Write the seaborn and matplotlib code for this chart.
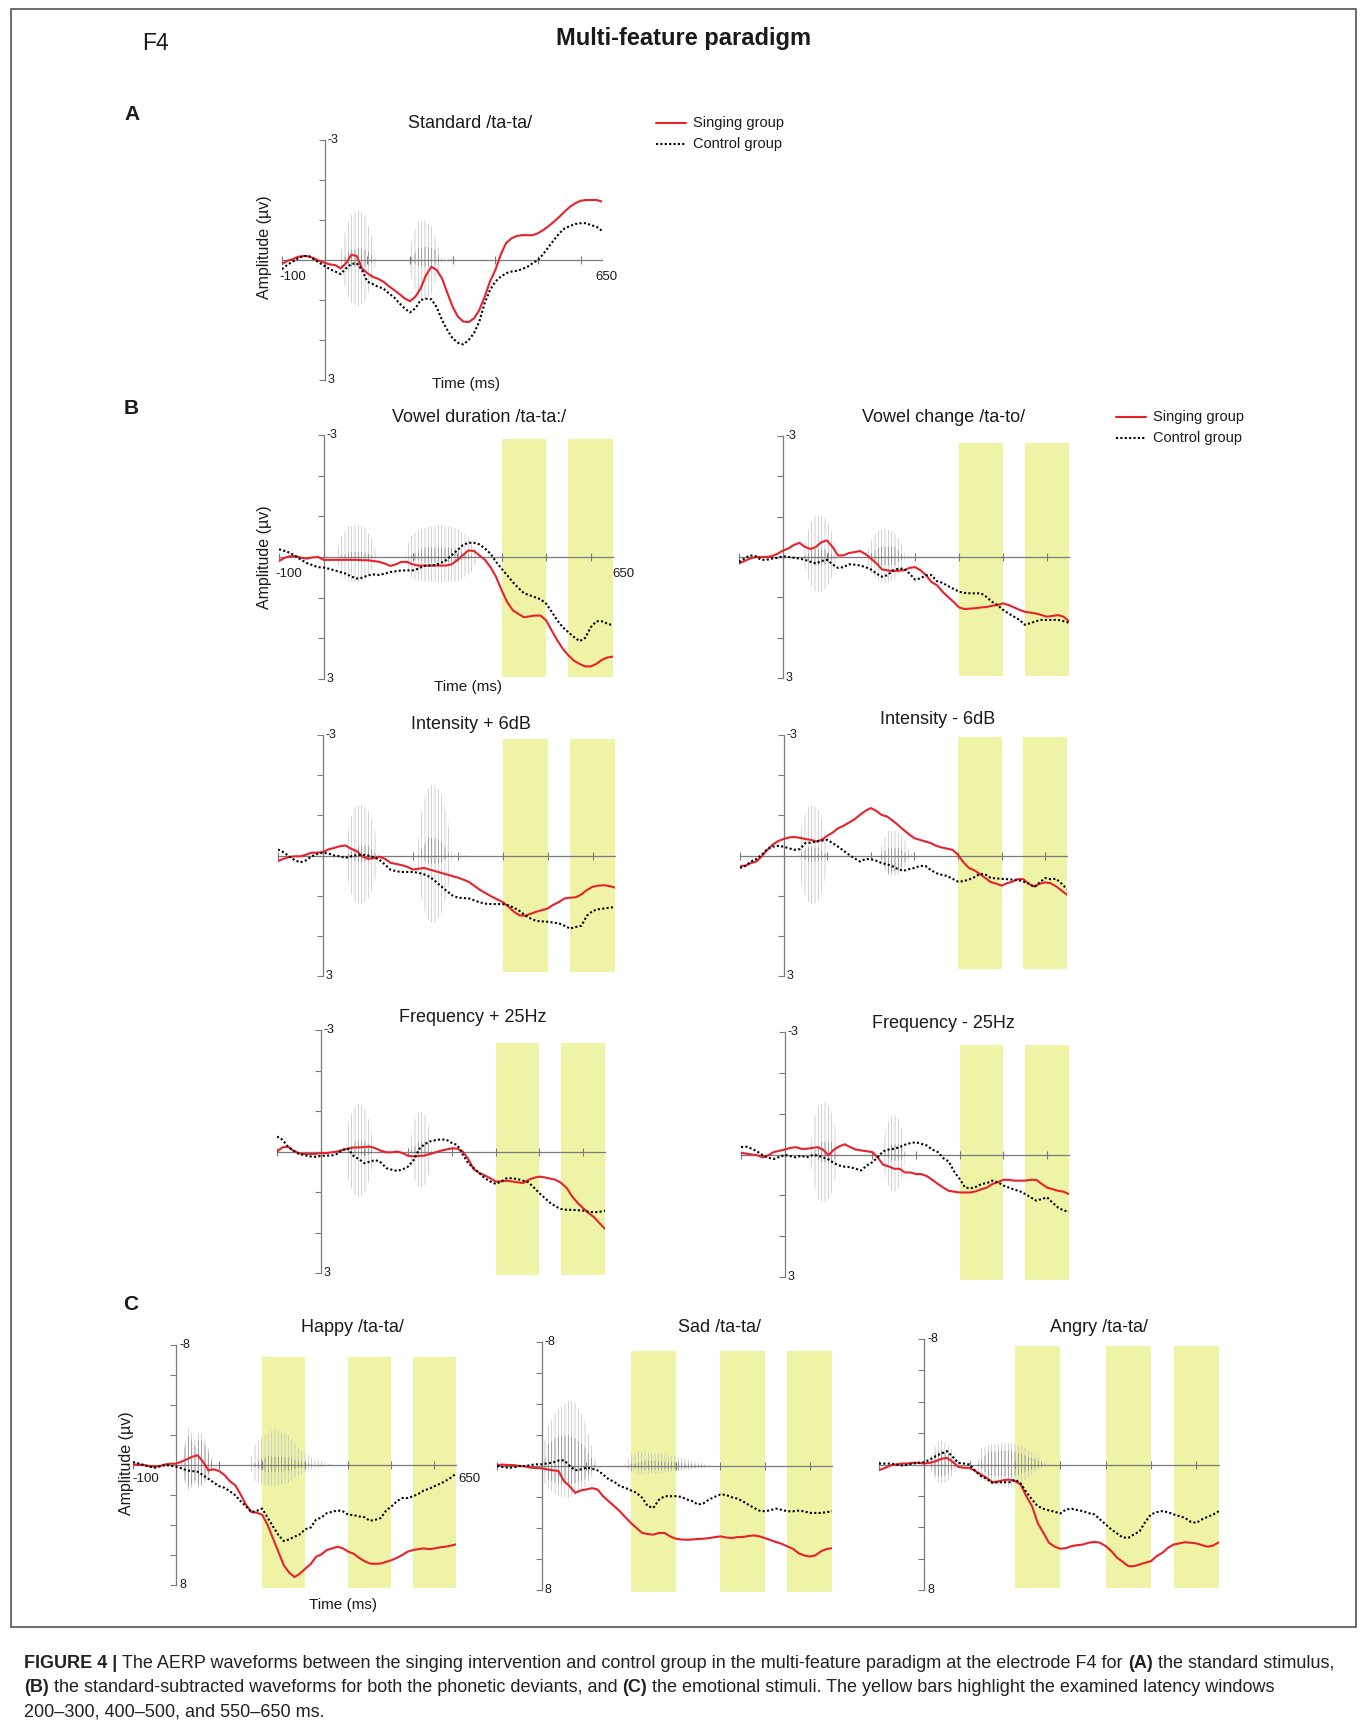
import matplotlib
matplotlib.use("Agg")
import numpy as np
import pandas as pd
import matplotlib.pyplot as plt
import seaborn as sns
from matplotlib.lines import Line2D
from matplotlib.patches import Rectangle
from matplotlib import font_manager

# ---------------------------------------------------------------- data
TIME_MS = np.arange(-100, 650.1, 12.5).tolist()

# grand-average ERPs (µV), electrode F4, one value every 12.5 ms from -100 to 650 ms
A_SING = [0.1, 0.02, -0.02, -0.08, -0.1, -0.09, -0.04, 0.02, 0.07, 0.11,
          0.13, 0.21, 0.08, -0.13, -0.1, 0.21, 0.33, 0.42, 0.47, 0.54,
          0.65, 0.75, 0.85, 0.96, 1.03, 0.92, 0.71, 0.38, 0.17, 0.25,
          0.46, 0.82, 1.17, 1.42, 1.54, 1.55, 1.46, 1.25, 0.92, 0.54,
          0.25, -0.13, -0.42, -0.54, -0.6, -0.62, -0.62, -0.62, -0.67, -0.75,
          -0.85, -0.96, -1.08, -1.21, -1.33, -1.42, -1.48, -1.5, -1.5, -1.5,
          -1.46]
A_CTRL = [0.23, 0.12, 0.04, -0.04, -0.1, -0.1, -0.02, 0.07, 0.15, 0.23,
          0.29, 0.35, 0.21, 0.1, 0.08, 0.25, 0.54, 0.6, 0.67, 0.71,
          0.83, 0.93, 1.08, 1.21, 1.31, 1.21, 1.0, 0.97, 0.98, 1.18,
          1.5, 1.75, 1.96, 2.07, 2.11, 2.0, 1.83, 1.54, 1.08, 0.75,
          0.54, 0.42, 0.33, 0.29, 0.27, 0.23, 0.17, 0.08, 0.0, -0.15,
          -0.33, -0.5, -0.67, -0.79, -0.85, -0.9, -0.92, -0.92, -0.87, -0.83,
          -0.73]

DUR_SING = [0.1, 0.02, -0.02, -0.02, 0.02, 0.04, 0.01, 0.0, 0.07, 0.07,
            0.07, 0.07, 0.07, 0.07, 0.07, 0.08, 0.08, 0.1, 0.12, 0.16,
            0.22, 0.18, 0.12, 0.12, 0.18, 0.21, 0.21, 0.21, 0.21, 0.21,
            0.21, 0.18, 0.08, -0.04, -0.16, -0.15, -0.04, 0.07, 0.25, 0.49,
            0.82, 1.11, 1.31, 1.4, 1.48, 1.46, 1.44, 1.44, 1.56, 1.81,
            2.05, 2.26, 2.42, 2.55, 2.63, 2.69, 2.69, 2.63, 2.53, 2.47,
            2.45]
DUR_CTRL = [-0.19, -0.15, -0.1, -0.02, 0.07, 0.15, 0.2, 0.25, 0.26, 0.29,
            0.33, 0.37, 0.41, 0.48, 0.53, 0.51, 0.45, 0.43, 0.44, 0.41,
            0.37, 0.35, 0.33, 0.33, 0.33, 0.29, 0.22, 0.21, 0.2, 0.15,
            0.08, -0.04, -0.16, -0.29, -0.35, -0.35, -0.31, -0.21, -0.08, 0.12,
            0.29, 0.45, 0.62, 0.76, 0.89, 0.94, 0.99, 1.04, 1.15, 1.35,
            1.56, 1.73, 1.85, 1.97, 2.07, 1.99, 1.73, 1.58, 1.58, 1.64,
            1.68]

VOW_SING = [0.16, 0.1, 0.04, 0.0, 0.0, 0.0, -0.02, -0.08, -0.16, -0.21,
            -0.3, -0.35, -0.25, -0.2, -0.25, -0.37, -0.41, -0.25, -0.04, -0.04,
            -0.1, -0.12, -0.15, -0.07, 0.04, 0.16, 0.31, 0.33, 0.35, 0.34,
            0.33, 0.27, 0.25, 0.33, 0.45, 0.62, 0.7, 0.86, 0.99, 1.11,
            1.25, 1.29, 1.28, 1.27, 1.25, 1.24, 1.21, 1.19, 1.15, 1.19,
            1.25, 1.31, 1.36, 1.38, 1.4, 1.44, 1.48, 1.46, 1.44, 1.48,
            1.59]
VOW_CTRL = [0.12, 0.04, -0.04, -0.02, 0.07, 0.07, 0.04, 0.02, -0.02, 0.0,
            0.02, 0.04, 0.07, 0.12, 0.16, 0.1, 0.07, 0.18, 0.27, 0.25,
            0.18, 0.19, 0.21, 0.25, 0.31, 0.41, 0.49, 0.45, 0.33, 0.29,
            0.29, 0.41, 0.56, 0.53, 0.45, 0.45, 0.6, 0.64, 0.72, 0.79,
            0.86, 0.89, 0.9, 0.9, 0.9, 0.99, 1.11, 1.19, 1.31, 1.4,
            1.48, 1.56, 1.68, 1.64, 1.59, 1.56, 1.56, 1.56, 1.56, 1.59,
            1.63]

INTP_SING = [0.14, 0.08, 0.04, 0.02, 0.02, -0.02, -0.07, -0.07, -0.09, -0.15,
             -0.19, -0.23, -0.25, -0.17, -0.11, 0.02, 0.08, 0.07, 0.03, 0.08,
             0.18, 0.21, 0.24, 0.28, 0.35, 0.33, 0.31, 0.35, 0.39, 0.43,
             0.47, 0.51, 0.55, 0.6, 0.66, 0.76, 0.86, 0.94, 1.02, 1.09,
             1.16, 1.27, 1.4, 1.49, 1.5, 1.45, 1.4, 1.36, 1.32, 1.23,
             1.16, 1.07, 1.05, 1.04, 0.97, 0.86, 0.78, 0.75, 0.74, 0.76,
             0.8]
INTP_CTRL = [-0.15, -0.08, 0.02, 0.12, 0.17, 0.12, 0.02, -0.04, -0.07, -0.05,
             0.0, 0.02, 0.06, 0.02, -0.01, -0.02, 0.0, 0.04, 0.1, 0.22,
             0.35, 0.39, 0.41, 0.41, 0.41, 0.43, 0.47, 0.53, 0.64, 0.76,
             0.88, 0.99, 1.05, 1.06, 1.07, 1.12, 1.17, 1.2, 1.21, 1.21,
             1.21, 1.24, 1.3, 1.38, 1.49, 1.57, 1.63, 1.64, 1.65, 1.67,
             1.69, 1.75, 1.82, 1.78, 1.75, 1.5, 1.38, 1.34, 1.32, 1.3,
             1.28]

INTM_SING = [0.27, 0.25, 0.19, 0.15, 0.02, -0.14, -0.27, -0.36, -0.41, -0.45,
             -0.46, -0.44, -0.41, -0.39, -0.35, -0.39, -0.49, -0.57, -0.68, -0.74,
             -0.82, -0.9, -1.01, -1.11, -1.18, -1.11, -1.01, -0.97, -0.87, -0.76,
             -0.64, -0.53, -0.43, -0.39, -0.35, -0.31, -0.24, -0.2, -0.17, -0.14,
             -0.02, 0.17, 0.31, 0.37, 0.46, 0.56, 0.66, 0.7, 0.75, 0.69,
             0.65, 0.59, 0.59, 0.71, 0.77, 0.7, 0.67, 0.69, 0.77, 0.87,
             0.98]
INTM_CTRL = [0.31, 0.26, 0.15, 0.09, -0.02, -0.16, -0.22, -0.24, -0.22, -0.18,
             -0.14, -0.16, -0.31, -0.32, -0.35, -0.37, -0.39, -0.31, -0.22, -0.12,
             -0.02, 0.07, 0.15, 0.09, 0.09, 0.13, 0.19, 0.22, 0.27, 0.34,
             0.38, 0.34, 0.31, 0.26, 0.26, 0.36, 0.44, 0.48, 0.51, 0.58,
             0.65, 0.64, 0.6, 0.54, 0.46, 0.47, 0.56, 0.57, 0.58, 0.59,
             0.6, 0.61, 0.65, 0.7, 0.79, 0.67, 0.56, 0.59, 0.58, 0.7,
             0.84]

FRQP_SING = [0.0, -0.1, -0.12, -0.02, 0.04, 0.06, 0.06, 0.06, 0.04, 0.04,
             0.02, 0.0, -0.04, -0.07, -0.1, -0.1, -0.11, -0.12, -0.08, -0.02,
             0.02, 0.02, 0.0, 0.04, 0.11, 0.12, 0.11, 0.1, 0.06, 0.02,
             -0.02, -0.05, -0.08, -0.07, 0.0, 0.19, 0.44, 0.53, 0.59, 0.66,
             0.74, 0.74, 0.72, 0.74, 0.76, 0.78, 0.7, 0.65, 0.62, 0.64,
             0.67, 0.7, 0.78, 0.9, 1.11, 1.27, 1.4, 1.52, 1.62, 1.77,
             1.91]
FRQP_CTRL = [-0.37, -0.29, -0.12, -0.02, 0.06, 0.09, 0.12, 0.13, 0.11, 0.1,
             0.1, 0.06, -0.04, -0.07, 0.11, 0.19, 0.29, 0.25, 0.21, 0.27,
             0.41, 0.45, 0.48, 0.44, 0.37, 0.21, -0.06, -0.18, -0.25, -0.28,
             -0.3, -0.29, -0.21, -0.16, 0.08, 0.29, 0.41, 0.53, 0.66, 0.74,
             0.8, 0.74, 0.66, 0.66, 0.68, 0.72, 0.76, 0.89, 1.03, 1.15,
             1.27, 1.36, 1.42, 1.44, 1.44, 1.45, 1.46, 1.49, 1.5, 1.49,
             1.46]

FRQM_SING = [-0.04, -0.02, 0.0, 0.02, 0.07, 0.02, -0.06, -0.09, -0.12, -0.16,
             -0.18, -0.14, -0.14, -0.16, -0.18, -0.12, 0.02, -0.12, -0.2, -0.25,
             -0.18, -0.12, -0.1, -0.08, -0.06, 0.07, 0.25, 0.29, 0.35, 0.35,
             0.44, 0.44, 0.48, 0.48, 0.53, 0.62, 0.72, 0.81, 0.89, 0.91,
             0.93, 0.93, 0.93, 0.9, 0.85, 0.81, 0.72, 0.68, 0.62, 0.62,
             0.64, 0.64, 0.64, 0.62, 0.62, 0.72, 0.81, 0.85, 0.89, 0.91,
             0.97]
FRQM_CTRL = [-0.18, -0.19, -0.14, -0.07, 0.02, 0.08, 0.11, 0.06, 0.01, 0.04,
             0.07, 0.03, 0.07, 0.02, 0.02, 0.07, 0.12, 0.21, 0.27, 0.3,
             0.31, 0.35, 0.39, 0.27, 0.19, 0.07, -0.08, -0.12, -0.14, -0.18,
             -0.24, -0.28, -0.3, -0.26, -0.22, -0.12, -0.06, 0.09, 0.17, 0.42,
             0.6, 0.81, 0.83, 0.79, 0.72, 0.7, 0.64, 0.68, 0.76, 0.81,
             0.86, 0.9, 0.97, 1.05, 1.13, 1.09, 1.05, 1.18, 1.3, 1.37,
             1.4]

HAP_SING = [-0.04, -0.02, 0.0, 0.07, 0.11, 0.07, -0.04, -0.09, -0.09, -0.22,
            -0.38, -0.55, -0.65, -0.22, 0.36, 0.29, 0.4, 0.67, 1.08, 1.35,
            1.97, 2.65, 3.14, 3.18, 3.32, 3.99, 4.89, 5.78, 6.68, 7.17,
            7.47, 7.24, 6.91, 6.61, 6.12, 5.96, 5.67, 5.56, 5.45, 5.56,
            5.78, 5.92, 6.19, 6.41, 6.57, 6.59, 6.57, 6.46, 6.35, 6.19,
            6.01, 5.78, 5.67, 5.61, 5.56, 5.61, 5.56, 5.49, 5.45, 5.38,
            5.29]
HAP_CTRL = [-0.2, -0.11, 0.0, 0.11, 0.18, 0.09, 0.0, 0.04, 0.11, 0.22,
            0.36, 0.4, 0.45, 0.67, 0.92, 1.17, 1.41, 1.52, 1.75, 2.02,
            2.42, 2.76, 3.14, 3.05, 2.91, 3.5, 4.1, 4.66, 5.07, 4.96,
            4.78, 4.62, 4.28, 4.17, 3.65, 3.5, 3.21, 3.12, 3.03, 3.09,
            3.32, 3.34, 3.43, 3.48, 3.72, 3.65, 3.54, 3.05, 2.76, 2.42,
            2.2, 2.2, 2.09, 1.93, 1.7, 1.59, 1.41, 1.26, 1.08, 0.85,
            0.58]

SAD_SING = [-0.06, -0.09, -0.06, -0.06, 0.0, 0.02, 0.11, 0.13, 0.15, 0.22,
            0.28, 0.32, 0.97, 1.3, 1.73, 1.58, 1.51, 1.43, 1.51, 1.95,
            2.27, 2.59, 2.92, 3.31, 3.68, 4.0, 4.32, 4.39, 4.43, 4.32,
            4.32, 4.54, 4.69, 4.74, 4.76, 4.74, 4.71, 4.69, 4.65, 4.59,
            4.54, 4.61, 4.65, 4.59, 4.58, 4.52, 4.48, 4.54, 4.65, 4.78,
            4.91, 5.02, 5.19, 5.34, 5.62, 5.77, 5.84, 5.77, 5.51, 5.36,
            5.3]
SAD_CTRL = [0.0, 0.06, 0.11, 0.09, 0.0, 0.0, -0.06, -0.11, -0.11, -0.17,
            -0.22, -0.35, -0.37, -0.02, 0.28, 0.22, 0.11, 0.17, 0.28, 0.54,
            0.86, 1.02, 1.3, 1.41, 1.58, 1.73, 2.05, 2.59, 2.7, 2.18,
            1.95, 1.95, 1.95, 1.99, 2.16, 2.27, 2.49, 2.4, 2.16, 1.99,
            1.84, 1.86, 2.01, 2.1, 2.27, 2.49, 2.7, 2.88, 2.92, 2.85,
            2.75, 2.83, 2.92, 2.92, 2.88, 2.92, 3.03, 3.03, 3.03, 2.98,
            2.92]

ANG_SING = [0.36, 0.23, 0.06, 0.0, -0.06, -0.06, -0.11, -0.11, -0.06, -0.11,
            -0.21, -0.36, -0.42, -0.17, 0.15, 0.21, 0.21, 0.42, 0.64, 0.85,
            1.13, 1.08, 1.0, 0.96, 1.06, 1.27, 2.02, 2.65, 3.72, 4.35,
            4.99, 5.24, 5.37, 5.33, 5.2, 5.14, 5.1, 4.99, 4.93, 4.99,
            5.2, 5.52, 5.94, 6.2, 6.48, 6.48, 6.37, 6.26, 6.16, 5.84,
            5.63, 5.31, 5.1, 5.03, 4.95, 4.99, 5.03, 5.14, 5.24, 5.16,
            4.95]
ANG_CTRL = [-0.06, -0.06, -0.06, 0.0, 0.06, 0.02, -0.06, -0.11, -0.15, -0.32,
            -0.53, -0.7, -0.85, -0.49, -0.11, -0.06, 0.0, 0.42, 0.74, 0.91,
            1.17, 1.13, 1.13, 1.13, 0.96, 1.21, 1.76, 2.23, 2.65, 2.82,
            2.93, 3.01, 3.12, 2.87, 2.82, 2.91, 2.97, 3.1, 3.18, 3.5,
            3.82, 4.14, 4.39, 4.65, 4.67, 4.46, 4.25, 3.65, 3.18, 3.04,
            2.97, 3.04, 3.18, 3.29, 3.4, 3.65, 3.72, 3.5, 3.33, 3.18,
            2.97]

# stimulus waveform envelopes: (time ms, upper edge µV, lower edge µV) per syllable
A_STIM = [([35, 45, 60, 78, 95, 110, 121], [0, -0.6, -1.1, -1.25, -1.1, -0.6, 0], [0, 0.6, 1.05, 1.17, 1.05, 0.6, 0]),
          ([198, 205, 220, 235, 250, 262, 273, 330], [0, -0.6, -0.95, -1.0, -0.85, -0.5, -0.05, 0],
           [0, 0.6, 0.95, 1.0, 0.85, 0.5, 0.05, 0])]
A_CORE = [([40, 60, 80, 100, 118], [0, -0.25, -0.3, -0.25, 0], [0, 0.15, 0.17, 0.15, 0]),
          ([200, 220, 240, 260, 272], [0, -0.3, -0.33, -0.25, 0], [0, 0.15, 0.17, 0.12, 0])]

DUR_STIM = [([28, 40, 55, 75, 95, 110, 121], [0, -0.5, -0.75, -0.78, -0.7, -0.4, 0], [0, 0.5, 0.6, 0.62, 0.55, 0.3, 0]),
            ([181, 195, 220, 260, 300, 330, 350], [0, -0.5, -0.7, -0.78, -0.7, -0.45, 0], [0, 0.5, 0.6, 0.62, 0.6, 0.4, 0])]
DUR_CORE = [([35, 60, 90, 115], [0, -0.12, -0.12, 0], [0, 0.08, 0.08, 0]),
            ([190, 230, 290, 340], [0, -0.25, -0.22, 0], [0, 0.15, 0.12, 0])]

VOW_STIM = [([43, 55, 70, 85, 100, 115, 124], [0, -0.6, -1.0, -1.04, -0.9, -0.5, 0], [0, 0.5, 0.85, 0.89, 0.75, 0.4, 0]),
            ([188, 200, 215, 235, 255, 270, 279, 310], [0, -0.4, -0.65, -0.7, -0.6, -0.3, -0.04, 0],
             [0, 0.4, 0.6, 0.66, 0.55, 0.3, 0.04, 0])]
VOW_CORE = [([45, 70, 95, 120], [0, -0.2, -0.2, 0], [0, 0.2, 0.2, 0]),
            ([190, 220, 255, 275], [0, -0.25, -0.25, 0], [0, 0.2, 0.2, 0])]

INTP_STIM = [([50, 58, 70, 85, 100, 115, 124], [0, -0.8, -1.2, -1.26, -1.15, -0.7, 0], [0, 0.8, 1.15, 1.21, 1.1, 0.7, 0]),
             ([209, 218, 230, 245, 262, 278, 287, 330], [0, -1.0, -1.6, -1.8, -1.6, -0.9, -0.03, 0],
              [0, 1.0, 1.55, 1.71, 1.5, 0.9, 0.03, 0])]
INTP_CORE = [([52, 75, 100, 122], [0, -0.2, -0.25, 0], [0, 0.15, 0.15, 0]),
             ([212, 235, 260, 284], [0, -0.45, -0.4, 0], [0, 0.2, 0.2, 0])]

INTM_STIM = [([34, 42, 55, 68, 82, 95, 101], [0, -0.8, -1.2, -1.26, -1.1, -0.6, 0], [0, 0.8, 1.15, 1.23, 1.1, 0.6, 0]),
             ([218, 228, 240, 253, 268, 282, 290, 310], [0, -0.35, -0.6, -0.64, -0.55, -0.3, -0.03, 0],
              [0, 0.3, 0.48, 0.52, 0.45, 0.25, 0.03, 0])]
INTM_CORE = [([36, 55, 80, 99], [0, -0.2, -0.2, 0], [0, 0.15, 0.15, 0]),
             ([220, 240, 265, 288], [0, -0.18, -0.18, 0], [0, 0.45, 0.35, 0])]

FRQP_STIM = [([56, 63, 75, 88, 102, 115, 121], [0, -0.7, -1.1, -1.19, -1.05, -0.6, 0], [0, 0.7, 1.05, 1.13, 1.0, 0.55, 0]),
             ([203, 210, 220, 230, 242, 250, 254], [0, -0.6, -0.93, -0.99, -0.85, -0.45, 0], [0, 0.55, 0.85, 0.9, 0.8, 0.4, 0])]
FRQP_CORE = [([58, 80, 105, 120], [0, -0.25, -0.25, 0], [0, 0.1, 0.1, 0]),
             ([205, 225, 245, 253], [0, -0.25, -0.25, 0], [0, 0.1, 0.1, 0])]

FRQM_STIM = [([58, 65, 77, 90, 104, 117, 123], [0, -0.8, -1.2, -1.29, -1.15, -0.6, 0], [0, 0.7, 1.1, 1.18, 1.05, 0.55, 0]),
             ([222, 230, 240, 250, 262, 272, 277], [0, -0.6, -0.9, -0.98, -0.85, -0.45, 0], [0, 0.55, 0.85, 0.93, 0.8, 0.4, 0])]
FRQM_CORE = [([60, 85, 110, 122], [0, -0.3, -0.3, 0], [0, 0.2, 0.2, 0]),
             ([224, 245, 265, 276], [0, -0.25, -0.25, 0], [0, 0.15, 0.15, 0])]

HAP_STIM = [([12, 20, 30, 45, 55, 70, 82, 89], [0, -1.5, -2.5, -1.6, -2.3, -1.6, -0.5, 0],
             [0, 1.2, 1.75, 1.2, 1.6, 1.1, 0.4, 0]),
            ([171, 180, 200, 230, 260, 290, 320, 364], [0, -1.2, -1.9, -2.4, -2.0, -1.0, -0.4, 0],
             [0, 1.0, 1.3, 1.41, 1.2, 0.6, 0.25, 0])]
HAP_CORE = [([13, 20, 30, 45, 55, 70, 82, 88], [0, -1.2, -2.0, -1.2, -1.8, -1.2, -0.3, 0],
             [0, 1.0, 1.5, 1.0, 1.4, 0.9, 0.3, 0]),
            ([175, 210, 260, 320], [0, -0.6, -0.5, 0], [0, 0.5, 0.4, 0])]

SAD_STIM = [([0, 5, 15, 35, 60, 75, 95, 110, 123], [0, -1.5, -2.6, -3.6, -4.2, -4.1, -3.0, -1.5, 0],
             [0, 1.0, 1.5, 1.9, 2.05, 1.9, 1.5, 0.8, 0]),
            ([183, 200, 220, 260, 300, 340, 384], [0, -0.7, -0.97, -0.8, -0.6, -0.3, 0],
             [0, 0.4, 0.54, 0.45, 0.35, 0.2, 0])]
SAD_CORE = [([3, 15, 35, 60, 75, 95, 110, 121], [0, -1.4, -1.9, -2.0, -1.8, -1.3, -0.6, 0],
             [0, 0.9, 1.1, 1.2, 1.1, 0.9, 0.4, 0]),
            ([190, 230, 300, 370], [0, -0.35, -0.25, 0], [0, 0.25, 0.2, 0])]

ANG_STIM = [([10, 20, 35, 50, 65, 79], [0, -1.0, -1.59, -1.3, -0.8, 0], [0, 0.8, 1.27, 1.1, 0.6, 0]),
            ([116, 125, 150, 190, 220, 250, 271], [0, -1.0, -1.3, -1.38, -1.1, -0.5, 0], [0, 1.0, 1.3, 1.49, 1.0, 0.4, 0])]
ANG_CORE = [([12, 25, 40, 55, 75], [0, -0.8, -0.9, -0.6, 0], [0, 0.7, 0.8, 0.5, 0]),
            ([118, 140, 190, 240, 268], [0, -0.8, -0.9, -0.4, 0], [0, 0.7, 0.8, 0.3, 0])]

WINDOWS_B = [(400, 500), (550, 650)]
WINDOWS_C = [(200, 300), (400, 500), (550, 650)]
GROUPS = ["Singing group", "Control group"]

# ---------------------------------------------------------------- layout (pixels of the 1363 x 1727 canvas)
W, H, DPI = 1363, 1727, 100
RED = "#e8212b"
YELLOW = "#eef3a6"
AXIS_GRAY = "#7a7a7a"
HATCH_GRAY = "#c2c2c2"
CORE_GRAY = "#8e8e8e"

PANELS = [
    dict(title="Standard /ta-ta/", sing=A_SING, ctrl=A_CTRL, stim=A_STIM, core=A_CORE, lim=3, win=[],
         band=None, box=(282, 602, 140, 380), tpos=(470, 123), ends=(10.5, 4.5, 17.5)),
    dict(title="Vowel duration /ta-ta:/", sing=DUR_SING, ctrl=DUR_CTRL, stim=DUR_STIM, core=DUR_CORE, lim=3,
         win=WINDOWS_B, band=(-2.89, 2.96), box=(279, 613, 435, 679), tpos=(479, 417), ends=(10, 10, 17)),
    dict(title="Vowel change /ta-to/", sing=VOW_SING, ctrl=VOW_CTRL, stim=VOW_STIM, core=VOW_CORE, lim=3,
         win=WINDOWS_B, band=(-2.83, 2.94), box=(739, 1069, 436, 678), tpos=(944, 417), ends=None),
    dict(title="Intensity + 6dB", sing=INTP_SING, ctrl=INTP_CTRL, stim=INTP_STIM, core=INTP_CORE, lim=3,
         win=WINDOWS_B, band=(-2.9, 2.89), box=(278, 615, 735, 976), tpos=(471, 725), ends=None),
    dict(title="Intensity - 6dB", sing=INTM_SING, ctrl=INTM_CTRL, stim=INTM_STIM, core=INTM_CORE, lim=3,
         win=WINDOWS_B, band=(-2.96, 2.83), box=(740, 1067, 735, 976), tpos=(938, 720), ends=None),
    dict(title="Frequency + 25Hz", sing=FRQP_SING, ctrl=FRQP_CTRL, stim=FRQP_STIM, core=FRQP_CORE, lim=3,
         win=WINDOWS_B, band=(-2.69, 3.06), box=(277, 605, 1030, 1273), tpos=(473, 1018), ends=None),
    dict(title="Frequency - 25Hz", sing=FRQM_SING, ctrl=FRQM_CTRL, stim=FRQM_STIM, core=FRQM_CORE, lim=3,
         win=WINDOWS_B, band=(-2.67, 3.08), box=(741, 1069, 1032, 1277), tpos=(943, 1023), ends=None),
    dict(title="Happy /ta-ta/", sing=HAP_SING, ctrl=HAP_CTRL, stim=HAP_STIM, core=HAP_CORE, lim=8,
         win=WINDOWS_C, band=(-7.22, 8.2), box=(133, 456, 1345, 1585), tpos=(352, 1328), ends=(13, 13, 14)),
    dict(title="Sad /ta-ta/", sing=SAD_SING, ctrl=SAD_CTRL, stim=SAD_STIM, core=SAD_CORE, lim=8,
         win=WINDOWS_C, band=(-7.42, 8.1), box=(497, 832, 1342, 1590), tpos=(719, 1328), ends=None),
    dict(title="Angry /ta-ta/", sing=ANG_SING, ctrl=ANG_CTRL, stim=ANG_STIM, core=ANG_CORE, lim=8,
         win=WINDOWS_C, band=(-7.54, 7.86), box=(879, 1219, 1339, 1590), tpos=(1099, 1327), ends=None),
]

# ---------------------------------------------------------------- style
sns.set_theme(style="white")
plt.rcParams["font.family"] = ["Liberation Sans", "DejaVu Sans"]
plt.rcParams["hatch.linewidth"] = 0.55
plt.rcParams["hatch.color"] = HATCH_GRAY
TXT = "#1a1a1a"


def fx(x):
    return x / W


def fy(y):
    return 1 - y / H


def pt(px):
    return px * 72.0 / DPI


fig = plt.figure(figsize=(W / DPI, H / DPI), dpi=DPI, facecolor="white")


def draw_panel(p):
    x0, x1, yt, yb = p["box"]
    ax = fig.add_axes([fx(x0), fy(yb), (x1 - x0) / W, (yb - yt) / H])
    lim = p["lim"]
    ax.set_facecolor("none")
    ax.set_xlim(-100, 650)
    ax.set_ylim(lim, -lim)

    # latency windows
    if p["band"] is not None:
        top, bot = p["band"]
        for a, b in p["win"]:
            ax.axvspan(a, b, ymin=(lim - bot) / (2 * lim), ymax=(lim - top) / (2 * lim),
                       color=YELLOW, lw=0, zorder=0, clip_on=False)

    # stimulus sound waveform: light outer strokes, darker strokes near the baseline
    for t, up, dn in p["stim"]:
        ax.fill_between(t, up, dn, facecolor="none", edgecolor=HATCH_GRAY, hatch="|||||",
                        linewidth=0, zorder=1)
    for t, up, dn in p["core"]:
        ax.fill_between(t, up, dn, facecolor="none", edgecolor=CORE_GRAY, hatch="|||||",
                        linewidth=0, zorder=1.1)

    # ERP curves
    frames = []
    for g, vals in zip(GROUPS, (p["sing"], p["ctrl"])):
        frames.append(pd.DataFrame({"time": TIME_MS[:len(vals)], "amp": vals, "group": g}))
    df = pd.concat(frames, ignore_index=True)
    sns.lineplot(data=df, x="time", y="amp", hue="group", style="group",
                 palette={GROUPS[0]: RED, GROUPS[1]: "black"},
                 dashes={GROUPS[0]: "", GROUPS[1]: (1, 1.1)},
                 linewidth=1.5, estimator=None, legend=False, ax=ax, zorder=3)
    ax.set_xlabel("")
    ax.set_ylabel("")

    # zero-crossing axes
    for side in ("top", "right"):
        ax.spines[side].set_visible(False)
    for side in ("left", "bottom"):
        ax.spines[side].set_position(("data", 0))
        ax.spines[side].set_color(AXIS_GRAY)
        ax.spines[side].set_linewidth(0.9)
        ax.spines[side].set_zorder(2)
    ax.set_xticks(list(range(-100, 601, 100)))
    step = 1 if lim == 3 else 2
    ax.set_yticks(list(range(-lim, lim + 1, step)))
    ax.tick_params(axis="x", direction="inout", length=6, width=0.8, color=AXIS_GRAY,
                   labelbottom=False, bottom=True)
    ax.tick_params(axis="y", direction="out", length=4, width=0.8, color=AXIS_GRAY,
                   labelleft=False, left=True)

    # end-point values of the axes
    ax.annotate(f"-{lim}", xy=(0, -lim), xytext=(pt(3), 0), textcoords="offset points",
                ha="left", va="center", fontsize=9, color=TXT)
    ax.annotate(f"{lim}", xy=(0, lim), xytext=(pt(3), 0), textcoords="offset points",
                ha="left", va="center", fontsize=9, color=TXT)
    if p["ends"] is not None:
        dl, dr, dy = p["ends"]
        ax.annotate("-100", xy=(-100, 0), xytext=(pt(dl), -pt(dy)), textcoords="offset points",
                    ha="center", va="center", fontsize=9.5, color=TXT)
        ax.annotate("650", xy=(650, 0), xytext=(pt(dr), -pt(dy)), textcoords="offset points",
                    ha="center", va="center", fontsize=9.5, color=TXT)

    fig.text(fx(p["tpos"][0]), fy(p["tpos"][1]), p["title"], ha="center", va="center",
             fontsize=13, color=TXT)
    return ax


for p in PANELS:
    draw_panel(p)

# axis titles
for (xa, ya), (xt, yt) in [((265, 247), (466, 384)), ((265, 557), (468, 687)), ((126, 1463), (343, 1605))]:
    fig.text(fx(xa), fy(ya), "Amplitude (µv)", rotation=90, ha="center", va="center",
             fontsize=11.5, color=TXT)
    fig.text(fx(xt), fy(yt), "Time (ms)", ha="center", va="center", fontsize=11, color=TXT)

# legends
for lx, ly in [(656, 123), (1116, 417)]:
    for i, (g, col, ls) in enumerate([(GROUPS[0], RED, "-"), (GROUPS[1], "black", (0, (1, 1.1)))]):
        yy = ly + 21 * i
        fig.add_artist(Line2D([fx(lx), fx(lx + 30)], [fy(yy), fy(yy)], transform=fig.transFigure,
                              color=col, lw=1.5, linestyle=ls))
        fig.text(fx(lx + 37), fy(yy), g, ha="left", va="center", fontsize=10.5, color=TXT)

# headings and panel letters
fig.text(fx(684), fy(39), "Multi-feature paradigm", ha="center", va="center", fontsize=17,
         fontweight="bold", color=TXT)
fig.text(fx(155), fy(44), "F4", ha="center", va="center", fontsize=16.5, color=TXT)
for letter, (lx, ly) in [("A", (132, 114)), ("B", (131, 408)), ("C", (131, 1305))]:
    fig.text(fx(lx), fy(ly), letter, ha="center", va="center", fontsize=15, fontweight="bold", color=TXT)

# frame around the figure
fig.add_artist(Rectangle((fx(11), fy(1627)), (1356 - 11) / W, (1627 - 9) / H, transform=fig.transFigure,
                         fill=False, edgecolor="#555555", lw=1.2))


# ---------------------------------------------------------------- caption
def has_font(name):
    try:
        font_manager.findfont(font_manager.FontProperties(family=name), fallback_to_default=False)
        return True
    except Exception:
        return False


CAP_FAMILY = ["Liberation Sans Narrow", "Liberation Sans"] if has_font("Liberation Sans Narrow") \
    else ["Liberation Sans"]

CAPTION = [
    [("FIGURE 4 |", True),
     ("The AERP waveforms between the singing intervention and control group in the multi-feature "
      "paradigm at the electrode F4 for", False), ("(A)", True), ("the standard stimulus,", False)],
    [("(B)", True), ("the standard-subtracted waveforms for both the phonetic deviants, and", False),
     ("(C)", True), ("the emotional stimuli. The yellow bars highlight the examined latency windows", False)],
    [("200\u2013300, 400\u2013500, and 550\u2013650 ms.", False)],
]
renderer = fig.canvas.get_renderer()


def text_w(s, size, bold):
    t = fig.text(0, 0, s, fontsize=size, fontweight="bold" if bold else "normal", family=CAP_FAMILY)
    w = t.get_window_extent(renderer).width
    t.remove()
    return w


def line_w(parts, size):
    sp = text_w("a a", size, False) - text_w("aa", size, False)
    return sum(text_w(s, size, b) for s, b in parts) + sp * (len(parts) - 1), sp


base = 12.0
w0, _ = line_w(CAPTION[0], base)
cap_size = base * 1315.0 / w0
for parts, ly in zip(CAPTION, [1663, 1688, 1712]):
    _, sp = line_w(parts, cap_size)
    x = 24.0
    for s, b in parts:
        t = fig.text(fx(x), fy(ly), s, ha="left", va="center", fontsize=cap_size,
                     fontweight="bold" if b else "normal", family=CAP_FAMILY, color="#222222")
        x += t.get_window_extent(renderer).width + sp

fig.savefig("out.png", dpi=DPI, facecolor="white")
